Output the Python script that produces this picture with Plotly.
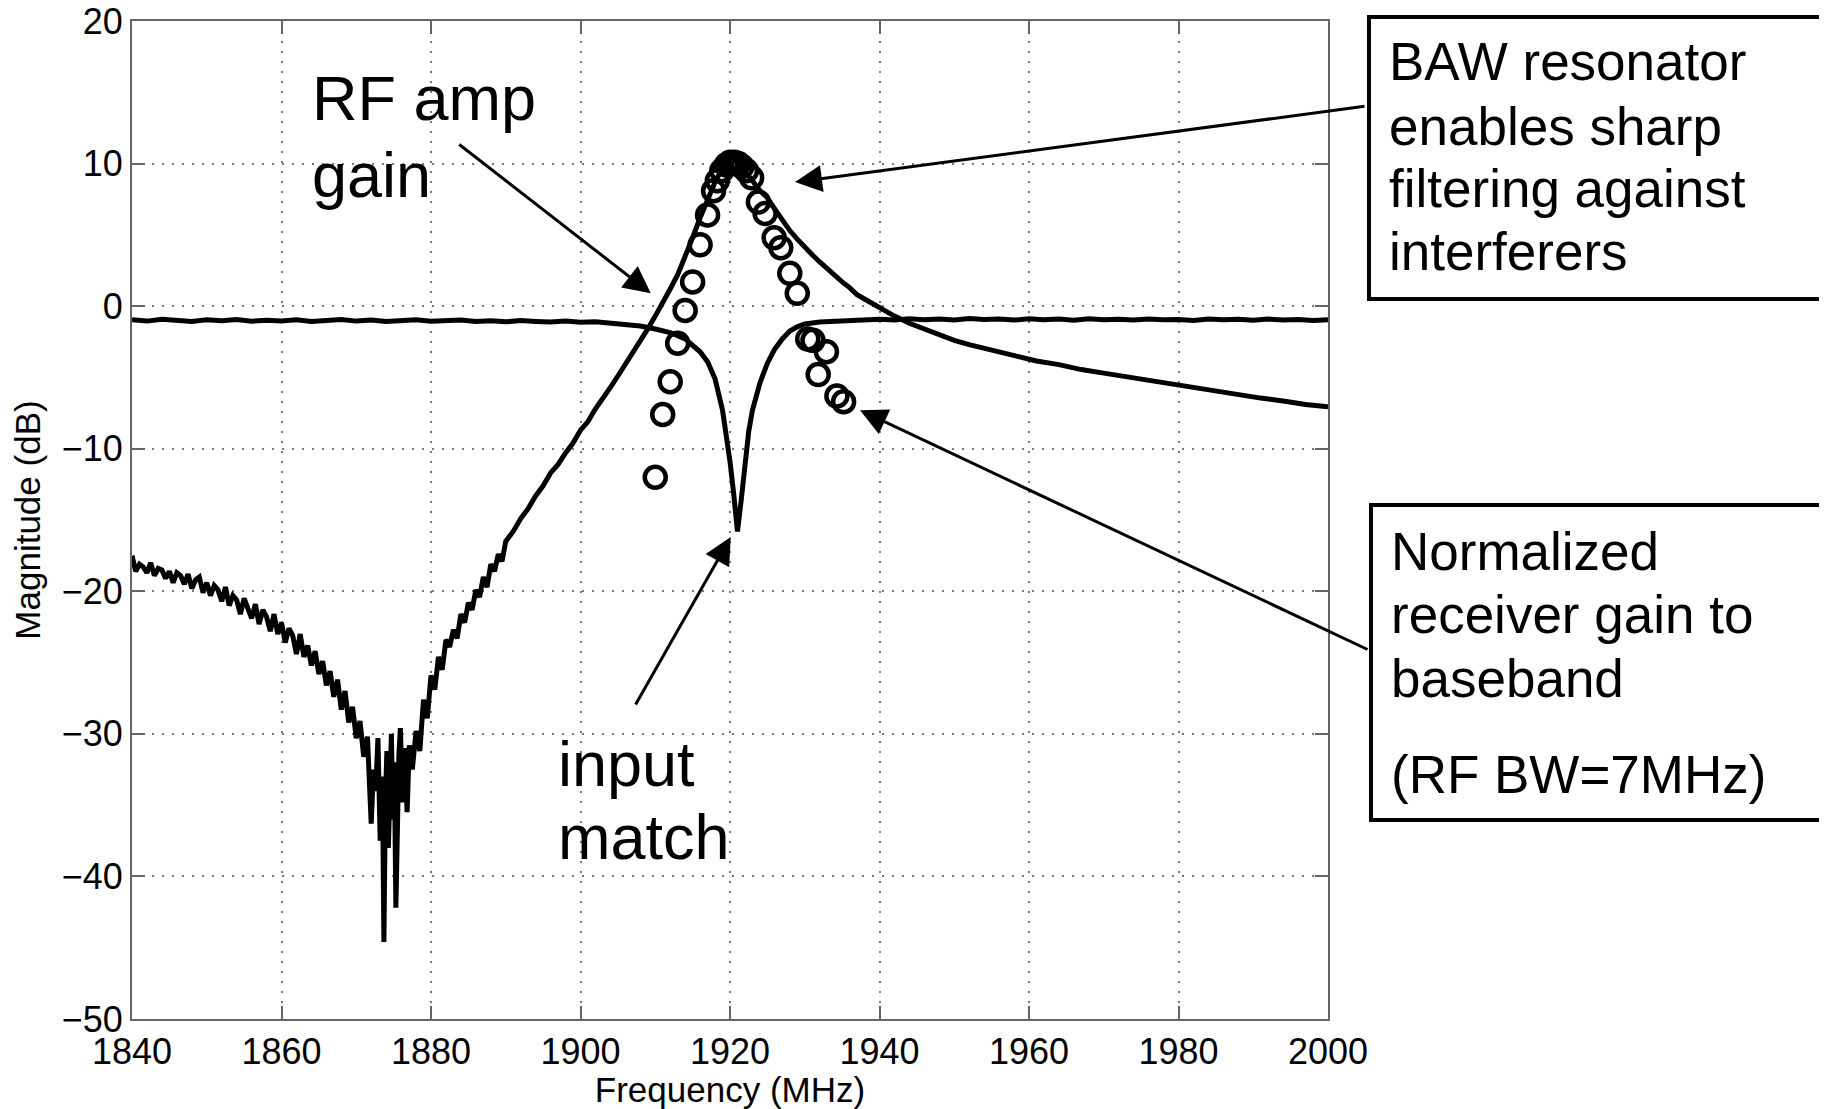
import plotly.graph_objects as go

# ---------------- data ----------------
gain_f = [1840, 1840.5, 1841, 1841.5, 1842, 1842.5, 1843, 1843.5, 1844, 1844.5,
          1845, 1845.5, 1846, 1846.5, 1847, 1847.5, 1848, 1848.5, 1849, 1849.5,
          1850, 1850.5, 1851, 1851.5, 1852, 1852.5, 1853, 1853.5, 1854, 1854.5,
          1855, 1855.5, 1856, 1856.5, 1857, 1857.5, 1858, 1858.5, 1859, 1859.5,
          1860, 1860.5, 1861, 1861.5, 1862, 1862.5, 1863, 1863.5, 1864, 1864.5,
          1865, 1865.5, 1866, 1866.5, 1867, 1867.5, 1868, 1868.5, 1869, 1869.5,
          1870, 1870.5, 1871, 1871.5, 1872, 1872.3, 1872.6, 1872.9, 1873.2, 1873.5,
          1873.7, 1873.9, 1874.1, 1874.3, 1874.5, 1874.7, 1874.9, 1875.1, 1875.3, 1875.5,
          1875.7, 1875.9, 1876.2, 1876.5, 1876.8, 1877.1, 1877.5, 1878, 1878.5, 1879,
          1879.5, 1880, 1880.5, 1881, 1881.5, 1882, 1882.5, 1883, 1883.5, 1884,
          1884.5, 1885, 1885.5, 1886, 1886.5, 1887, 1887.5, 1888, 1888.5, 1889,
          1889.5, 1890, 1891, 1892, 1893, 1894, 1895, 1896, 1897, 1898,
          1899, 1900, 1901, 1902, 1903, 1904, 1905, 1906, 1907, 1908,
          1909, 1910, 1911, 1912, 1913, 1914, 1915, 1916, 1917, 1918,
          1919, 1920, 1920.5, 1921, 1922, 1923, 1924, 1925, 1926, 1927,
          1928, 1929, 1930, 1931, 1932, 1933, 1934, 1935, 1936, 1937,
          1938, 1939, 1940, 1942, 1944, 1946, 1948, 1950, 1952, 1955,
          1958, 1961, 1964, 1967, 1970, 1973, 1976, 1979, 1982, 1985,
          1988, 1991, 1994, 1997, 2000]
gain_db = [-17.5, -18.6, -18.1, -18.3, -18.7, -18.0, -18.9, -18.4, -18.5, -19.1,
           -18.6, -19.4, -18.7, -18.9, -19.5, -18.8, -19.8, -19.2, -19.0, -20.1,
           -19.4, -20.3, -19.6, -19.9, -20.7, -19.7, -21.0, -20.3, -20.6, -21.6,
           -20.5, -21.1, -21.9, -20.9, -22.3, -21.3, -21.8, -22.8, -21.6, -23.0,
           -22.2, -23.6, -22.6, -23.1, -24.4, -23.0, -24.6, -23.8, -25.2, -24.2,
           -25.8, -24.9, -26.6, -25.6, -27.4, -26.2, -28.3, -27.0, -29.2, -28.1,
           -30.3, -29.1, -31.6, -30.2, -36.3, -32.5, -34.0, -30.3, -37.5, -33.0,
           -44.6, -34.5, -31.2, -38.0, -33.5, -30.0, -36.0, -32.0, -42.2, -35.0,
           -31.5, -29.6, -34.8, -31.0, -35.5, -30.8, -32.5, -29.8, -31.2, -27.6,
           -28.9, -25.9, -26.9, -24.6, -25.5, -23.4, -23.9, -22.7, -23.3, -21.6,
           -22.2, -20.8, -21.3, -19.9, -20.4, -19.0, -19.7, -18.1, -18.6, -17.4,
           -17.9, -16.5, -15.8, -14.9, -14.2, -13.3, -12.6, -11.7, -11.1, -10.3,
           -9.6, -8.7, -8.1, -7.2, -6.5, -5.7, -4.9, -4.1, -3.3, -2.5,
           -1.6, -0.7, 0.2, 1.2, 2.2, 3.4, 4.8, 6.2, 7.5, 8.7,
           9.7, 10.4, 10.4, 10.1, 9.5, 8.8, 8.1, 7.6, 6.8, 6.0,
           5.3, 4.7, 4.1, 3.6, 3.1, 2.6, 2.1, 1.7, 1.3, 0.8,
           0.5, 0.2, -0.2, -0.7, -1.2, -1.6, -2.0, -2.4, -2.7, -3.1,
           -3.45, -3.85, -4.1, -4.45, -4.7, -4.95, -5.25, -5.45, -5.75, -5.95,
           -6.2, -6.45, -6.65, -6.9, -7.05]

s11_f = [1840, 1842, 1844, 1846, 1848, 1850, 1852, 1854, 1856, 1858,
         1860, 1862, 1864, 1866, 1868, 1870, 1872, 1874, 1876, 1878,
         1880, 1882, 1884, 1886, 1888, 1890, 1892, 1894, 1896, 1898,
         1900, 1902, 1904, 1906, 1908,
         1910, 1912, 1914, 1915, 1916, 1917, 1918, 1919, 1919.5, 1920,
         1920.5, 1921, 1921.5, 1922, 1922.5, 1923, 1924, 1925, 1926, 1927,
         1928, 1929, 1930, 1932, 1934, 1936, 1938,
         1940, 1942, 1944, 1946, 1948, 1950, 1952, 1954, 1956, 1958,
         1960, 1962, 1964, 1966, 1968, 1970, 1972, 1974, 1976, 1978,
         1980, 1982, 1984, 1986, 1988, 1990, 1992, 1994, 1996, 1998,
         2000]
s11_db = [-0.95, -1.05, -0.92, -1.0, -1.08, -0.96, -1.03, -0.94, -1.06, -0.99,
          -1.04, -0.95, -1.07, -1.0, -0.93, -1.05, -0.98, -1.08, -1.0, -0.96,
          -1.06, -1.01, -0.97, -1.08, -1.02, -1.1, -1.0, -1.07, -1.12, -1.05,
          -1.13, -1.1, -1.18, -1.25, -1.4,
          -1.6, -1.85, -2.3, -2.7, -3.2, -3.9, -5.1, -7.3, -8.9, -10.9,
          -13.2, -15.8, -13.6, -11.0, -8.8, -7.3, -5.4, -4.0, -3.0, -2.3,
          -1.75, -1.45, -1.25, -1.12, -1.05, -0.98, -0.95,
          -0.92, -0.98, -0.88, -0.95, -0.9, -0.97, -0.87, -0.94, -0.9, -0.98,
          -0.89, -0.95, -0.91, -0.99, -0.88, -0.96, -0.92, -0.98, -0.9, -0.95,
          -0.93, -1.0, -0.9, -0.96, -0.92, -0.99, -0.91, -0.97, -0.93, -1.0,
          -0.95]

rx_f = [1910, 1911, 1912, 1913, 1914, 1915, 1916, 1917, 1917.8, 1918.3, 1918.9, 1919.5, 1920.0,
        1920.6, 1921.1, 1921.6, 1922.2, 1922.9, 1923.8, 1924.7, 1925.9, 1926.8, 1928.0, 1929.0,
        1930.4, 1931.1, 1931.8, 1932.9, 1934.3, 1935.2]
rx_db = [-12.0, -7.6, -5.3, -2.6, -0.3, 1.7, 4.3, 6.4, 8.1, 8.8, 9.5, 9.9, 10.1, 10.1, 10.0, 9.8,
         9.5, 9.0, 7.3, 6.5, 4.8, 4.1, 2.3, 0.9, -2.3, -2.4, -4.8, -3.2, -6.3, -6.7]

x_ticks = [1840, 1860, 1880, 1900, 1920, 1940, 1960, 1980, 2000]
y_ticks = [-50, -40, -30, -20, -10, 0, 10, 20]

# ---------------- figure ----------------
OFF = 8  # page body margin
W, H = 1827 - OFF, 1109 - OFF
ML, MT = 132 - OFF, 21 - OFF
PW, PH = 1196, 998
MR, MB = W - ML - PW, H - MT - PH
FONT = "Arial, Liberation Sans, Helvetica, sans-serif"


def px(x):
    return (x - OFF - ML) / PW


def py(y):
    return (MT + PH - (y - OFF)) / PH


fig = go.Figure()
fig.add_trace(go.Scatter(x=s11_f, y=s11_db, mode="lines",
                         line=dict(color="black", width=5), showlegend=False))
fig.add_trace(go.Scatter(x=gain_f, y=gain_db, mode="lines",
                         line=dict(color="black", width=5), showlegend=False))
fig.add_trace(go.Scatter(x=rx_f, y=rx_db, mode="markers",
                         marker=dict(symbol="circle-open", size=21, color="black",
                                     line=dict(width=4.5, color="black")),
                         showlegend=False))

axis_common = dict(
    showline=True, linecolor="#666", linewidth=2, mirror="ticks",
    ticks="inside", ticklen=13, tickwidth=2, tickcolor="#666",
    showgrid=True, gridcolor="#777", gridwidth=1.5, griddash="2px,8px",
    zeroline=False, tickfont=dict(family=FONT, size=36, color="black"),
    ticklabeloverflow="allow",
)

fig.update_xaxes(range=[1840, 2000], tickvals=x_ticks, **axis_common,
                 title=dict(text="Frequency (MHz)", font=dict(family=FONT, size=35, color="black"),
                            standoff=0))
fig.update_yaxes(range=[-50, 20], tickvals=y_ticks, **axis_common,
                 title=dict(text="Magnitude (dB)", font=dict(family=FONT, size=35, color="black"),
                            standoff=14))

ann = []
big = dict(family=FONT, size=63, color="black")
small = dict(family=FONT, size=53, color="black")


def txt(x, y, s, f):
    ann.append(dict(xref="paper", yref="paper", x=px(x), y=py(y), text=s, showarrow=False,
                    xanchor="left", yanchor="middle", font=f))


txt(310, 98, "RF amp", big)
txt(310, 175, "gain", big)
txt(556, 764, "input", big)
txt(556, 837, "match", big)
for s, b in zip(["BAW resonator", "enables sharp", "filtering against", "interferers"],
                [81, 145, 208, 271]):
    txt(1387, b - 19, s, small)
for s, b in zip(["Normalized", "receiver gain to", "baseband", "(RF BW=7MHz)"],
                [570, 633, 697, 793]):
    txt(1389, b - 19, s, small)


def arrow(x, y, dx, dy):
    ann.append(dict(x=x, y=y, xref="x", yref="y", ax=dx, ay=dy, axref="pixel", ayref="pixel",
                    text="", showarrow=True, arrowhead=2, arrowsize=1.8, arrowwidth=3,
                    arrowcolor="black", standoff=0))


arrow(1909.4, 0.9, -193, -150)      # RF amp gain
arrow(1920.1, -16.2, -96, 169)      # input match
arrow(1928.7, 8.7, 571, -76)        # BAW resonator
arrow(1937.4, -7.3, 509, 240)       # Normalized receiver gain

fig.update_layout(annotations=ann)

shapes = [
    dict(type="rect", xref="paper", yref="paper", x0=px(1369), x1=px(1900), y0=py(17), y1=py(299),
         line=dict(color="black", width=4), fillcolor="rgba(0,0,0,0)"),
    dict(type="rect", xref="paper", yref="paper", x0=px(1371), x1=px(1900), y0=py(505), y1=py(820),
         line=dict(color="black", width=4), fillcolor="rgba(0,0,0,0)"),
]
fig.update_layout(shapes=shapes)

fig.update_layout(width=W, height=H, margin=dict(l=ML, r=MR, t=MT, b=MB, autoexpand=False),
                  paper_bgcolor="white", plot_bgcolor="white", font=dict(family=FONT))

fig.write_html("out.html")
